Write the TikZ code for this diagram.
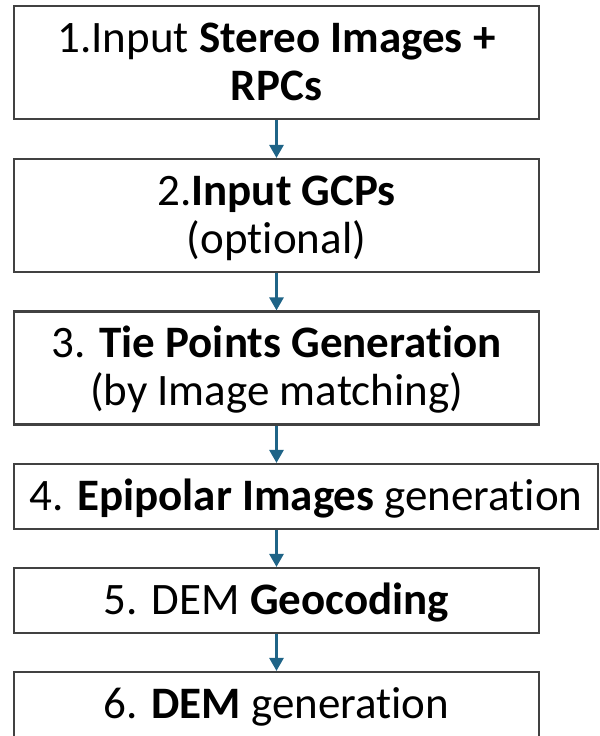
\documentclass[tikz,border=0pt]{standalone}
\usepackage{fontspec}
\setmainfont{Carlito}[Ligatures={NoCommon,NoRare,NoContextual}]
\usetikzlibrary{arrows.meta}
\definecolor{arrowblue}{RGB}{31,100,135}
\definecolor{boxgray}{RGB}{65,65,65}
\tikzset{
  box/.style={draw=boxgray, line width=1.1pt, rectangle, inner sep=0pt, fill=white},
  bigbox/.style={box, minimum width=262.5pt, minimum height=56.5pt},
  smallbox/.style={box, minimum width=262.5pt, minimum height=32.5pt},
  txt/.style={anchor=base, inner sep=0pt, font=\fontsize{22.5pt}{25pt}\selectfont},
  flow/.style={draw=arrowblue, line width=1.4pt, -{Triangle[width=7pt,length=6.5pt]}}
}
\begin{document}
\begin{tikzpicture}[x=0.5pt,y=-0.5pt]
\clip (0,0) rectangle (600,736);
\fill[white] (0,0) rectangle (600,736);
% boxes
\node[bigbox] (b1) at (276.5,62.5) {};
\node[bigbox] (b2) at (276.5,215.5) {};
\node[bigbox] (b3) at (276.5,368) {};
\node[box, minimum width=292pt, minimum height=32.5pt] (b4) at (306,496.5) {};
\node[smallbox] (b5) at (276.5,600.5) {};
\node[smallbox] (b6) at (276.5,704.5) {};
% texts
\node[txt] (t1a) at (276.5,52) {1.Input \textbf{Stereo Images +}};
\node[txt] (t1b) at (276.5,100) {\textbf{RPCs}};
\node[txt] (t2a) at (276.5,205) {2.\textbf{Input GCPs}};
\node[txt] (t2b) at (276.5,253) {(optional)};
\node[txt] (t3a) at (276.5,357.5) {3. \textbf{Tie Points Generation}};
\node[txt] (t3b) at (276.5,405.5) {(by Image matching)};
\node[txt] (t4) at (306,510) {4. \textbf{Epipolar Images} generation};
\node[txt] (t5) at (276.5,614) {5. DEM \textbf{Geocoding}};
\node[txt] (t6) at (276.5,718) {6. \textbf{DEM} generation};
% arrows
\draw[flow] (b1.south) -- (b2.north);
\draw[flow] (b2.south) -- (b3.north);
\draw[flow] (b3.south) -- (b3.south |- b4.north);
\draw[flow] (b5.north |- b4.south) -- (b5.north);
\draw[flow] (b5.south) -- (b6.north);
\end{tikzpicture}
\end{document}
